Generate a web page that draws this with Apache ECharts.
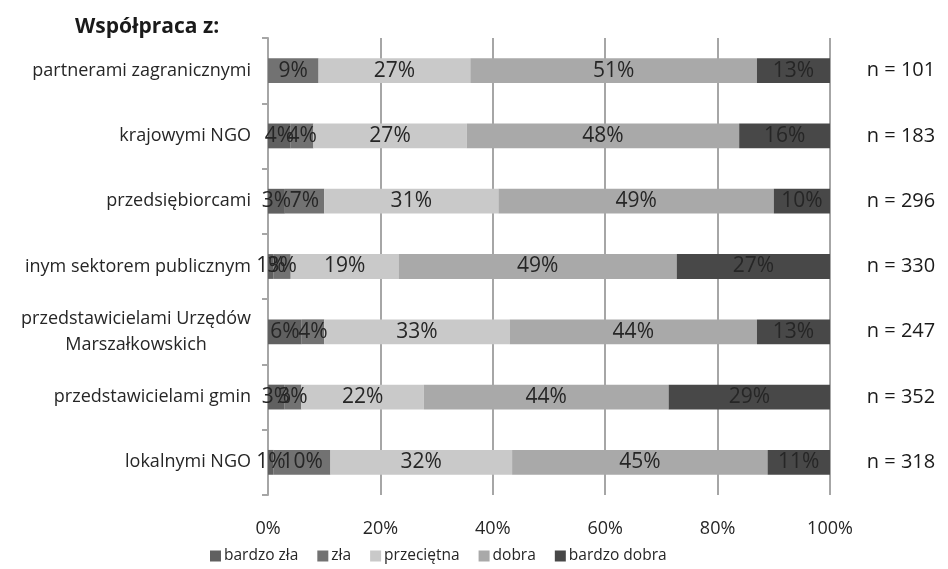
<!DOCTYPE html>
<html>
<head>
<meta charset="utf-8">
<script src="https://cdn.jsdelivr.net/npm/echarts@6/dist/echarts.min.js"></script>
<style>
  html, body { margin: 0; padding: 0; background: #fff; }
  #chart { width: 948px; height: 569px; }
</style>
</head>
<body>
<div id="chart"></div>
<script>
// Ocena współpracy organizacji z różnymi partnerami (udział odpowiedzi, %)
const categories = [
  'partnerami zagranicznymi',
  'krajowymi NGO',
  'przedsiębiorcami',
  'inym sektorem publicznym',
  'przedstawicielami Urzędów\nMarszałkowskich',
  'przedstawicielami gmin',
  'lokalnymi NGO'
];
const sampleSizes = ['n = 101', 'n = 183', 'n = 296', 'n = 330', 'n = 247', 'n = 352', 'n = 318'];

const seriesNames = ['bardzo zła', 'zła', 'przeciętna', 'dobra', 'bardzo dobra'];
const bardzoZla   = [0, 4, 3, 1, 6, 3, 1];
const zla         = [9, 4, 7, 3, 4, 3, 10];
const przecietna  = [27, 27, 31, 19, 33, 22, 32];
const dobra       = [51, 48, 49, 49, 44, 44, 45];
const bardzoDobra = [13, 16, 10, 27, 13, 29, 11];
const xTicks = [0, 20, 40, 60, 80, 100];

const values = [bardzoZla, zla, przecietna, dobra, bardzoDobra];
const colors = ['#606060', '#727272', '#c9c9c9', '#a9a9a9', '#484848'];
const FONT = '"Open Sans", "Noto Sans", sans-serif';

// 100% stacked bars: each row is scaled to its own total (rounded shares may sum to 99 or 101),
// while the labels keep the stated percentages.
const rowTotals = categories.map((_, r) => values.reduce((s, arr) => s + arr[r], 0));

const chart = echarts.init(document.getElementById('chart'), null, { renderer: 'canvas' });

const series = seriesNames.map((name, i) => ({
  name,
  type: 'bar',
  stack: 'total',
  barCategoryGap: '62%',
  data: values[i].map((v, r) => ({ value: v / rowTotals[r] * 100, raw: v })),
  itemStyle: { color: colors[i] },
  label: {
    show: true,
    position: 'inside',
    color: '#262626',
    fontFamily: FONT,
    fontSize: 21,
    formatter: p => (p.data.raw > 0 ? p.data.raw + '%' : '')
  },
  emphasis: { disabled: true }
}));

chart.setOption({
  animation: false,
  title: {
    text: 'Współpraca z:',
    left: 70,
    top: 12,
    textStyle: { fontFamily: FONT, fontSize: 21, fontWeight: 'bold', color: '#1a1a1a' }
  },
  grid: { left: 268, right: 118, top: 38, bottom: 74, containLabel: false },
  legend: {
    bottom: 0,
    left: 205,
    itemWidth: 11,
    itemHeight: 11,
    itemGap: 19,
    icon: 'rect',
    textStyle: { fontFamily: FONT, fontSize: 15.5, color: '#262626', padding: [0, 0, 0, -2] },
    data: seriesNames
  },
  xAxis: {
    type: 'value',
    min: xTicks[0],
    max: xTicks[xTicks.length - 1],
    interval: xTicks[1] - xTicks[0],
    axisLine: { show: false },
    axisTick: { show: false },
    splitLine: { show: true, lineStyle: { color: '#a6a6a6', width: 2 } },
    axisLabel: {
      margin: 25,
      fontFamily: FONT,
      fontSize: 18,
      color: '#262626',
      formatter: v => v + '%'
    }
  },
  yAxis: [
    {
      type: 'category',
      inverse: true,
      data: categories,
      axisLine: { show: true, lineStyle: { color: '#a6a6a6', width: 2 } },
      axisTick: { show: true, length: 6, lineStyle: { color: '#a6a6a6', width: 2 } },
      axisLabel: {
        margin: 17,
        fontFamily: FONT,
        fontSize: 18,
        color: '#262626',
        lineHeight: 26,
        formatter: v => v.split('\n').map(s => '{c|' + s + '}').join('\n'),
        rich: { c: { align: 'center', fontFamily: FONT, fontSize: 18, color: '#262626', lineHeight: 26 } }
      }
    },
    {
      type: 'category',
      inverse: true,
      position: 'right',
      data: sampleSizes,
      axisLine: { show: false },
      axisTick: { show: false },
      axisLabel: {
        margin: 71,
        align: 'center',
        fontFamily: FONT,
        fontSize: 20,
        color: '#1a1a1a',
        padding: [10, 0, 0, 0]
      }
    }
  ],
  series
});
</script>
</body>
</html>
